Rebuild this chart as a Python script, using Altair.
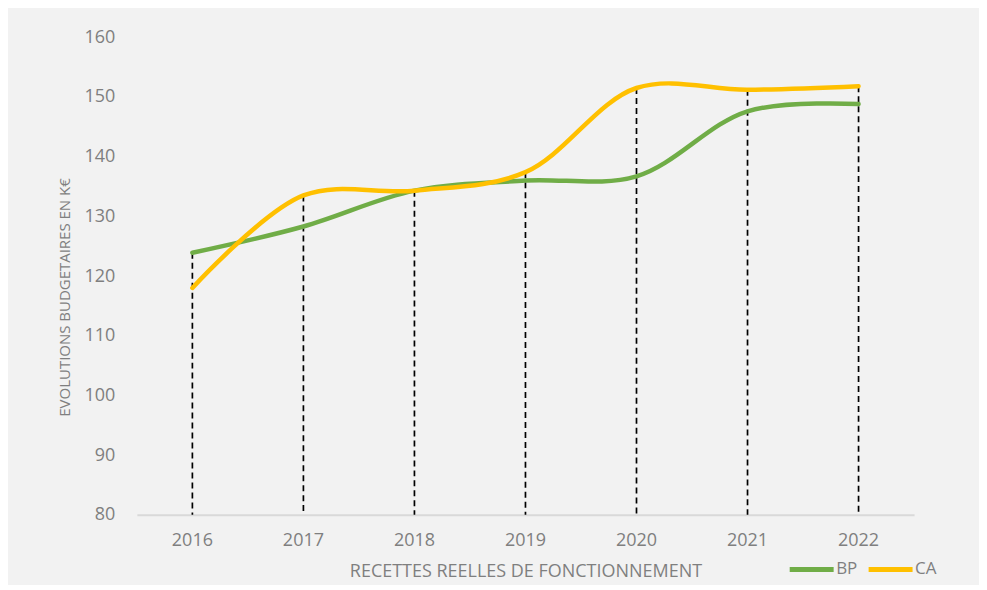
import altair as alt
import pandas as pd

years = ["2016", "2017", "2018", "2019", "2020", "2021", "2022"]
bp = [123.9, 128.3, 134.3, 136.0, 136.7, 147.6, 148.8]
ca = [118.0, 133.5, 134.3, 137.4, 151.5, 151.2, 151.8]
series = ["BP", "CA"]
colors = ["#70ad47", "#ffc000"]

rows = []
for y, b, c in zip(years, bp, ca):
    rows.append({"year": y, "serie": "BP", "value": b})
    rows.append({"year": y, "serie": "CA", "value": c})
df = pd.DataFrame(rows)
drops = pd.DataFrame({"year": years, "top": [max(b, c) for b, c in zip(bp, ca)], "base": [80] * len(years)})

font = "Open Sans"
gray = "#7f7f7f"

x = alt.X("year:N", sort=years, title="RECETTES REELLES DE FONCTIONNEMENT",
          scale=alt.Scale(paddingInner=0, paddingOuter=0.0),
          axis=alt.Axis(labelAngle=0, ticks=False, domainColor="#d9d9d9", domainWidth=2,
                        labelPadding=17, titlePadding=13, labelFontSize=18, titleFontSize=18,
                        labelColor=gray, titleColor=gray, titleFontWeight="normal",
                        labelFont=font, titleFont=font))

yscale = alt.Scale(domain=[80, 160], nice=False, zero=False)

rules = alt.Chart(drops).mark_rule(color="black", strokeDash=[6, 4], strokeWidth=1.7).encode(
    x=x,
    y=alt.Y("top:Q", scale=yscale),
    y2="base:Q",
)

lines = alt.Chart(df).mark_line(interpolate="catmull-rom", strokeWidth=4.5, strokeCap="round").encode(
    x=x,
    y=alt.Y("value:Q", scale=yscale, title="EVOLUTIONS BUDGETAIRES EN K€",
            axis=alt.Axis(values=list(range(80, 161, 10)), grid=False, domain=False, ticks=False,
                          labelPadding=22, titleX=-64, titleY=260, labelFontSize=18, titleFontSize=15,
                          labelColor=gray, titleColor=gray, titleFontWeight="normal",
                          labelFont=font, titleFont=font)),
    color=alt.Color("serie:N", scale=alt.Scale(domain=series, range=colors),
                    legend=alt.Legend(title=None, orient="none", direction="horizontal",
                                      legendX=651, legendY=508, symbolType="stroke",
                                      symbolSize=1936, symbolStrokeWidth=5,
                                      labelFontSize=17, labelColor=gray, labelFont=font,
                                      labelOffset=0, columnPadding=0)),
)

chart = alt.layer(rules, lines).properties(
    width=778, height=478,
    background="#f2f2f2",
    padding={"left": 129, "top": 29, "right": 65, "bottom": 70},
    autosize=alt.AutoSizeParams(type="none"),
).configure_view(stroke=None)

chart.save("out.html", embed_options={"renderer": "svg", "actions": False})
